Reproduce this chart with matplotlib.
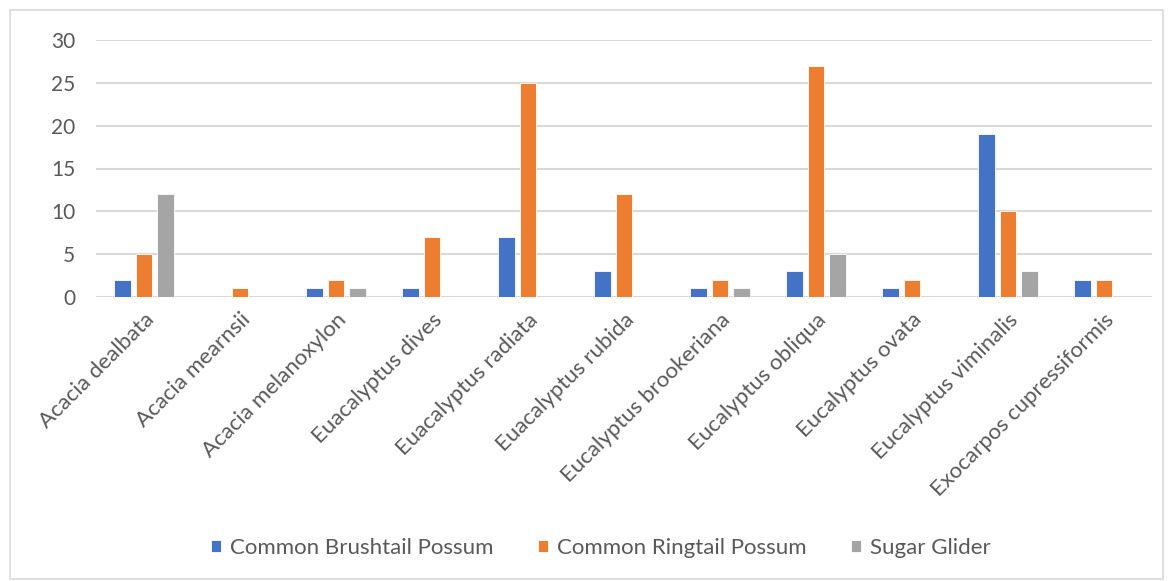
import matplotlib
matplotlib.use('Agg')
import numpy as np
from matplotlib import pyplot as plt
from matplotlib.patches import Rectangle

plt.rcParams['font.family'] = ['Lato', 'DejaVu Sans']

species = ['Acacia dealbata', 'Acacia mearnsii', 'Acacia melanoxylon',
           'Euacalyptus dives', 'Euacalyptus radiata', 'Euacalyptus rubida',
           'Eucalyptus brookeriana', 'Eucalyptus obliqua', 'Eucalyptus ovata',
           'Eucalyptus viminalis', 'Exocarpos cupressiformis']
brushtail = [2, 0, 1, 1, 7, 3, 1, 3, 1, 19, 2]
ringtail = [5, 1, 2, 7, 25, 12, 2, 27, 2, 10, 2]
glider = [12, 0, 1, 0, 0, 0, 1, 5, 0, 3, 0]

series = [('Common Brushtail Possum', brushtail, '#4472C4'),
          ('Common Ringtail Possum', ringtail, '#ED7D31'),
          ('Sugar Glider', glider, '#A5A5A5')]

fig = plt.figure(figsize=(11.73, 5.81), dpi=100)
ax = fig.add_axes([96/1173, 1 - 297/581, 1056/1173, 257/581])

# chart border
fig.patches.append(Rectangle((10/1173, 2/581), 1153/1173, 569/581, transform=fig.transFigure,
                             fill=False, edgecolor='#d9d9d9', linewidth=1.2))

x = np.arange(len(species))
w = 0.177
step = 0.229
for i, (name, vals, col) in enumerate(series):
    vals = np.array(vals, dtype=float)
    h = np.where(vals > 0, vals, np.nan)
    ax.bar(x + (i - 1) * step, h, w, color=col, edgecolor='white', linewidth=0.6,
           label=name, zorder=3)

ax.set_xlim(-0.5, len(species) - 0.5)
ax.set_ylim(0, 30)
ax.set_yticks(range(0, 31, 5))
ax.yaxis.grid(True, color='#d9d9d9', linewidth=1.5, zorder=0)
ax.set_axisbelow(True)
for s in ax.spines.values():
    s.set_visible(False)
ax.tick_params(axis='both', length=0, colors='#595959')
ax.tick_params(axis='y', pad=15, labelsize=15)
ax.set_xticks(x)
ax.set_xticklabels(species, rotation=45, ha='right', rotation_mode='anchor', fontsize=16)
ax.tick_params(axis='x', pad=9)

fig.legend(loc='center', bbox_to_anchor=(601/1173, 1 - 548/581), ncol=3, frameon=False,
           fontsize=16, handlelength=0.45, handleheight=0.45, handletextpad=0.4,
           columnspacing=2.0, labelcolor='#595959')

fig.savefig('out.png', dpi=100)
